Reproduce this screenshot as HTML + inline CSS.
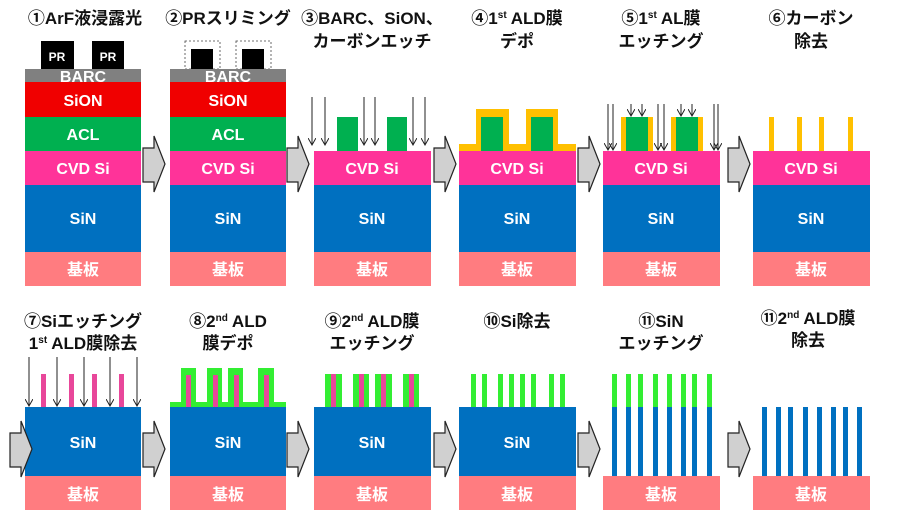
<!DOCTYPE html>
<html><head><meta charset="utf-8"><style>
html,body{margin:0;padding:0;background:#fff;width:900px;height:521px;overflow:hidden}
svg text{font-family:"Liberation Sans","Noto Sans CJK JP",sans-serif;font-weight:bold}
.t{font-size:17px;fill:#111;text-anchor:middle}
.l{font-size:16px;fill:#fff;text-anchor:middle}
.ar{stroke:#222;stroke-width:1}
</style></head><body>
<svg width="900" height="521" xmlns="http://www.w3.org/2000/svg">
<defs>
<marker id="ah" markerWidth="8" markerHeight="8" refX="7" refY="4" orient="auto" markerUnits="userSpaceOnUse">
<path d="M0,0 L7,4 L0,8" fill="none" stroke="#222" stroke-width="1"/></marker>
<g id="bar"><path d="M0,12 H11 V0 L22,28 L11,56 V46 H0 Z" fill="#d0d0d0" stroke="#222" stroke-width="1.2"/></g>
</defs>

<!-- Titles top -->
<text class="t" x="85" y="24">①ArF液浸露光</text>
<text class="t" x="228" y="24">②PRスリミング</text>
<text class="t" x="372" y="24">③BARC、SiON、</text>
<text class="t" x="372" y="47">カーボンエッチ</text>
<text class="t" x="517" y="24">④1<tspan font-size="10" dy="-6">st</tspan><tspan dy="6"> ALD膜</tspan></text>
<text class="t" x="517" y="47">デポ</text>
<text class="t" x="661" y="24">⑤1<tspan font-size="10" dy="-6">st</tspan><tspan dy="6"> AL膜</tspan></text>
<text class="t" x="661" y="47">エッチング</text>
<text class="t" x="811" y="24">⑥カーボン</text>
<text class="t" x="811" y="47">除去</text>

<!-- Panel 1 -->
<rect x="41" y="41" width="33" height="28" fill="#000"/><rect x="92" y="41" width="32" height="28" fill="#000"/>
<text x="57" y="61" font-size="12" fill="#fff" text-anchor="middle">PR</text>
<text x="108" y="61" font-size="12" fill="#fff" text-anchor="middle">PR</text>
<rect x="25" y="69" width="116" height="13" fill="#808080"/>
<rect x="25" y="82" width="116" height="35" fill="#f00000"/>
<rect x="25" y="117" width="116" height="34" fill="#00b050"/>
<rect x="25" y="151" width="116" height="34" fill="#ff3399"/>
<rect x="25" y="185" width="116" height="67" fill="#0070c0"/>
<rect x="25" y="252" width="116" height="34" fill="#ff7c80"/>
<text class="l" x="83" y="82">BARC</text><text class="l" x="83" y="106">SiON</text><text class="l" x="83" y="140">ACL</text>
<text class="l" x="83" y="174">CVD Si</text><text class="l" x="83" y="224">SiN</text><text class="l" x="83" y="275">基板</text>

<!-- Panel 2 -->
<rect x="185" y="41" width="35" height="28" fill="none" stroke="#444" stroke-dasharray="2,2" stroke-width="0.8"/>
<rect x="236" y="41" width="35" height="28" fill="none" stroke="#444" stroke-dasharray="2,2" stroke-width="0.8"/>
<rect x="191" y="49" width="22" height="20" fill="#000"/><rect x="242" y="49" width="22" height="20" fill="#000"/>
<rect x="170" y="69" width="116" height="13" fill="#808080"/>
<rect x="170" y="82" width="116" height="35" fill="#f00000"/>
<rect x="170" y="117" width="116" height="34" fill="#00b050"/>
<rect x="170" y="151" width="116" height="34" fill="#ff3399"/>
<rect x="170" y="185" width="116" height="67" fill="#0070c0"/>
<rect x="170" y="252" width="116" height="34" fill="#ff7c80"/>
<text class="l" x="228" y="82">BARC</text><text class="l" x="228" y="106">SiON</text><text class="l" x="228" y="140">ACL</text>
<text class="l" x="228" y="174">CVD Si</text><text class="l" x="228" y="224">SiN</text><text class="l" x="228" y="275">基板</text>

<!-- Panel 3 -->
<rect x="337" y="117" width="21" height="34" fill="#00b050"/><rect x="387" y="117" width="20" height="34" fill="#00b050"/>
<rect x="314" y="151" width="117" height="34" fill="#ff3399"/>
<rect x="314" y="185" width="117" height="67" fill="#0070c0"/>
<rect x="314" y="252" width="117" height="34" fill="#ff7c80"/>
<text class="l" x="372" y="174">CVD Si</text><text class="l" x="372" y="224">SiN</text><text class="l" x="372" y="275">基板</text>
<g class="ar" marker-end="url(#ah)">
<line x1="312" y1="97" x2="312" y2="145"/><line x1="325" y1="97" x2="325" y2="145"/>
<line x1="364" y1="97" x2="364" y2="145"/><line x1="375" y1="97" x2="375" y2="145"/>
<line x1="413" y1="97" x2="413" y2="145"/><line x1="425" y1="97" x2="425" y2="145"/></g>

<!-- Panel 4 -->
<rect x="459" y="144" width="117" height="7" fill="#ffc000"/>
<rect x="476" y="109" width="33" height="42" fill="#ffc000"/><rect x="526" y="109" width="32" height="42" fill="#ffc000"/>
<rect x="481" y="117" width="22" height="34" fill="#00b050"/><rect x="531" y="117" width="22" height="34" fill="#00b050"/>
<rect x="459" y="151" width="117" height="34" fill="#ff3399"/>
<rect x="459" y="185" width="117" height="67" fill="#0070c0"/>
<rect x="459" y="252" width="117" height="34" fill="#ff7c80"/>
<text class="l" x="517" y="174">CVD Si</text><text class="l" x="517" y="224">SiN</text><text class="l" x="517" y="275">基板</text>

<!-- Panel 5 -->
<rect x="621" y="117" width="32" height="34" fill="#ffc000"/><rect x="671" y="117" width="32" height="34" fill="#ffc000"/>
<rect x="626" y="117" width="22" height="34" fill="#00b050"/><rect x="676" y="117" width="22" height="34" fill="#00b050"/>
<rect x="603" y="151" width="117" height="34" fill="#ff3399"/>
<rect x="603" y="185" width="117" height="67" fill="#0070c0"/>
<rect x="603" y="252" width="117" height="34" fill="#ff7c80"/>
<text class="l" x="661" y="174">CVD Si</text><text class="l" x="661" y="224">SiN</text><text class="l" x="661" y="275">基板</text>
<g class="ar" marker-end="url(#ah)">
<line x1="608" y1="104" x2="608" y2="150"/><line x1="613" y1="104" x2="613" y2="150"/>
<line x1="658" y1="104" x2="658" y2="150"/><line x1="664" y1="104" x2="664" y2="150"/>
<line x1="714" y1="104" x2="714" y2="150"/><line x1="718" y1="104" x2="718" y2="150"/>
<line x1="631" y1="104" x2="631" y2="116"/><line x1="642" y1="104" x2="642" y2="116"/>
<line x1="681" y1="104" x2="681" y2="116"/><line x1="692" y1="104" x2="692" y2="116"/></g>

<!-- Panel 6 -->
<g fill="#ffc000"><rect x="769" y="117" width="5" height="34"/><rect x="797" y="117" width="5" height="34"/><rect x="819" y="117" width="5" height="34"/><rect x="848" y="117" width="5" height="34"/></g>
<rect x="753" y="151" width="117" height="34" fill="#ff3399"/>
<rect x="753" y="185" width="117" height="67" fill="#0070c0"/>
<rect x="753" y="252" width="117" height="34" fill="#ff7c80"/>
<text class="l" x="811" y="174">CVD Si</text><text class="l" x="811" y="224">SiN</text><text class="l" x="811" y="275">基板</text>

<!-- Top arrows -->
<use href="#bar" x="143" y="136"/><use href="#bar" x="287" y="136"/><use href="#bar" x="434" y="136"/><use href="#bar" x="578" y="136"/><use href="#bar" x="728" y="136"/>

<!-- Titles bottom -->
<text class="t" x="83" y="327">⑦Siエッチング</text>
<text class="t" x="83" y="349">1<tspan font-size="10" dy="-6">st</tspan><tspan dy="6"> ALD膜除去</tspan></text>
<text class="t" x="228" y="327">⑧2<tspan font-size="10" dy="-6">nd</tspan><tspan dy="6"> ALD</tspan></text>
<text class="t" x="228" y="349">膜デポ</text>
<text class="t" x="372" y="327">⑨2<tspan font-size="10" dy="-6">nd</tspan><tspan dy="6"> ALD膜</tspan></text>
<text class="t" x="372" y="349">エッチング</text>
<text class="t" x="517" y="327">⑩Si除去</text>
<text class="t" x="661" y="327">⑪SiN</text>
<text class="t" x="661" y="349">エッチング</text>
<text class="t" x="808" y="324">⑪2<tspan font-size="10" dy="-6">nd</tspan><tspan dy="6"> ALD膜</tspan></text>
<text class="t" x="808" y="346">除去</text>

<!-- Panel 7 -->
<g fill="#e8479a"><rect x="41" y="374" width="5" height="33"/><rect x="69" y="374" width="5" height="33"/><rect x="92" y="374" width="5" height="33"/><rect x="119" y="374" width="5" height="33"/></g>
<rect x="25" y="407" width="116" height="69" fill="#0070c0"/>
<rect x="25" y="476" width="116" height="34" fill="#ff7c80"/>
<text class="l" x="83" y="448">SiN</text><text class="l" x="83" y="500">基板</text>
<g class="ar" marker-end="url(#ah)">
<line x1="29" y1="357" x2="29" y2="406"/><line x1="57" y1="357" x2="57" y2="406"/><line x1="84" y1="357" x2="84" y2="406"/><line x1="110" y1="357" x2="110" y2="406"/><line x1="137" y1="357" x2="137" y2="406"/></g>

<!-- Panel 8 -->
<g fill="#33ee33"><rect x="170" y="402" width="116" height="5"/><rect x="181" y="368" width="15" height="39"/><rect x="207" y="368" width="15" height="39"/><rect x="228" y="368" width="15" height="39"/><rect x="258" y="368" width="16" height="39"/></g>
<g fill="#e8479a"><rect x="186" y="375" width="5" height="32"/><rect x="213" y="375" width="5" height="32"/><rect x="234" y="375" width="5" height="32"/><rect x="264" y="375" width="5" height="32"/></g>
<rect x="170" y="407" width="116" height="69" fill="#0070c0"/>
<rect x="170" y="476" width="116" height="34" fill="#ff7c80"/>
<text class="l" x="228" y="448">SiN</text><text class="l" x="228" y="500">基板</text>

<!-- Panel 9 -->
<g fill="#33ee33"><rect x="325" y="374" width="17" height="33"/><rect x="353" y="374" width="16" height="33"/><rect x="375" y="374" width="17" height="33"/><rect x="403" y="374" width="16" height="33"/></g>
<g fill="#e8479a"><rect x="331" y="374" width="5" height="33"/><rect x="359" y="374" width="5" height="33"/><rect x="381" y="374" width="5" height="33"/><rect x="409" y="374" width="5" height="33"/></g>
<rect x="314" y="407" width="117" height="69" fill="#0070c0"/>
<rect x="314" y="476" width="117" height="34" fill="#ff7c80"/>
<text class="l" x="372" y="448">SiN</text><text class="l" x="372" y="500">基板</text>

<!-- Panel 10 -->
<g fill="#33ee33"><rect x="471" y="374" width="5" height="33"/><rect x="482" y="374" width="5" height="33"/><rect x="498" y="374" width="5" height="33"/><rect x="509" y="374" width="5" height="33"/><rect x="520" y="374" width="5" height="33"/><rect x="531" y="374" width="5" height="33"/><rect x="549" y="374" width="5" height="33"/><rect x="560" y="374" width="5" height="33"/></g>
<rect x="459" y="407" width="117" height="69" fill="#0070c0"/>
<rect x="459" y="476" width="117" height="34" fill="#ff7c80"/>
<text class="l" x="517" y="448">SiN</text><text class="l" x="517" y="500">基板</text>

<!-- Panel 11 -->
<g>
<rect x="612" y="374" width="5" height="33" fill="#33ee33"/><rect x="612" y="407" width="5" height="69" fill="#0070c0"/>
<rect x="626" y="374" width="5" height="33" fill="#33ee33"/><rect x="626" y="407" width="5" height="69" fill="#0070c0"/>
<rect x="638" y="374" width="5" height="33" fill="#33ee33"/><rect x="638" y="407" width="5" height="69" fill="#0070c0"/>
<rect x="653" y="374" width="5" height="33" fill="#33ee33"/><rect x="653" y="407" width="5" height="69" fill="#0070c0"/>
<rect x="667" y="374" width="5" height="33" fill="#33ee33"/><rect x="667" y="407" width="5" height="69" fill="#0070c0"/>
<rect x="681" y="374" width="5" height="33" fill="#33ee33"/><rect x="681" y="407" width="5" height="69" fill="#0070c0"/>
<rect x="692" y="374" width="5" height="33" fill="#33ee33"/><rect x="692" y="407" width="5" height="69" fill="#0070c0"/>
<rect x="707" y="374" width="5" height="33" fill="#33ee33"/><rect x="707" y="407" width="5" height="69" fill="#0070c0"/>
</g>
<rect x="603" y="476" width="117" height="34" fill="#ff7c80"/>
<text class="l" x="661" y="500">基板</text>

<!-- Panel 12 -->
<g fill="#0070c0"><rect x="762" y="407" width="5" height="69"/><rect x="776" y="407" width="5" height="69"/><rect x="788" y="407" width="5" height="69"/><rect x="803" y="407" width="5" height="69"/><rect x="817" y="407" width="5" height="69"/><rect x="831" y="407" width="5" height="69"/><rect x="843" y="407" width="5" height="69"/><rect x="857" y="407" width="5" height="69"/></g>
<rect x="753" y="476" width="117" height="34" fill="#ff7c80"/>
<text class="l" x="811" y="500">基板</text>

<!-- Bottom arrows -->
<use href="#bar" x="10" y="421"/><use href="#bar" x="143" y="421"/><use href="#bar" x="287" y="421"/><use href="#bar" x="434" y="421"/><use href="#bar" x="578" y="421"/><use href="#bar" x="728" y="421"/>
</svg>
</body></html>
